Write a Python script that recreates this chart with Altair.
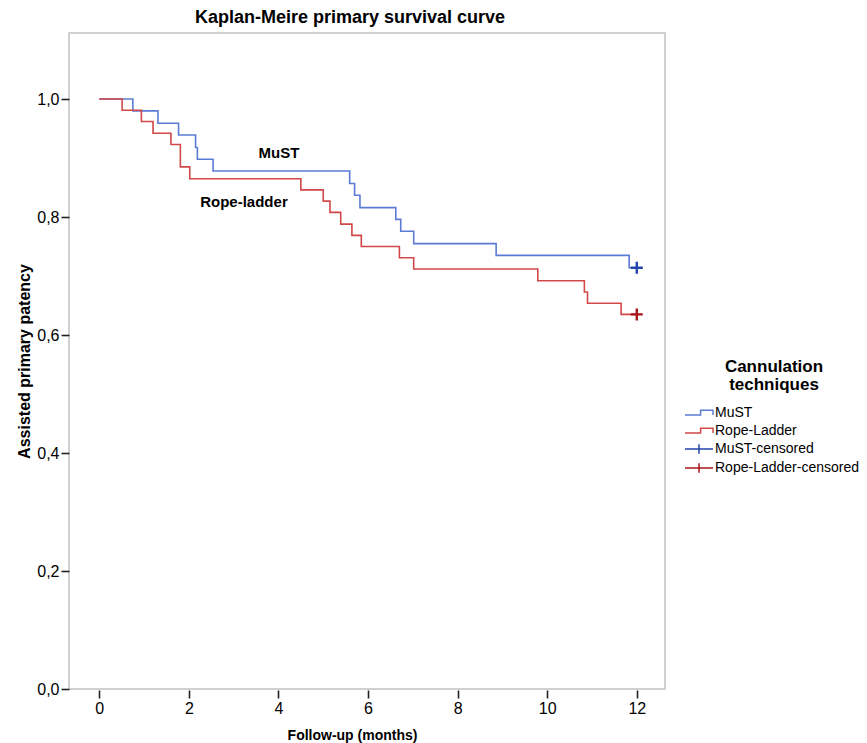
import altair as alt
import pandas as pd

# ---- data ----
series = ["MuST", "Rope-Ladder", "MuST-censored", "Rope-Ladder-censored"]
colors = ["#5b7bd5", "#d04848", "#2444ad", "#a8141a"]

must_t = [0, 0.75, 1.31, 1.77, 2.15, 2.19, 2.54, 5.59, 5.70, 5.82, 6.62, 6.73, 7.02, 8.86, 11.83, 12.0]
must_s = [1.0, 0.980, 0.959, 0.939, 0.918, 0.898, 0.878, 0.857, 0.837, 0.816, 0.796, 0.776, 0.755, 0.735, 0.714, 0.714]

rope_t = [0, 0.51, 0.94, 1.20, 1.60, 1.81, 2.02, 4.50, 5.00, 5.15, 5.39, 5.64, 5.85, 6.70, 7.02, 9.79, 10.83, 10.90, 11.65, 12.0]
rope_s = [1.0, 0.981, 0.962, 0.942, 0.923, 0.885, 0.865, 0.846, 0.827, 0.808, 0.788, 0.769, 0.750, 0.731, 0.712, 0.692, 0.673, 0.654, 0.635, 0.635]

cens_series = ["MuST-censored", "Rope-Ladder-censored"]
cens_t = [12.0, 12.0]
cens_s = [0.714, 0.635]

annot_text = ["MuST", "Rope-ladder"]
annot_t = [4.01, 3.23]
annot_s = [0.909, 0.825]

x_ticks = [0, 2, 4, 6, 8, 10, 12]
y_ticks = [0.0, 0.2, 0.4, 0.6, 0.8, 1.0]

FONT = "Liberation Sans"
STEP_PATH = "M-1.75,0.25H0.2V-0.35H1.75V0.25"
CENS_PATH = "M-1.75,0H1.75M0,-0.6V0.6"
CROSS_PATH = "M-1,0H1M0,-1V1"

df_lines = pd.DataFrame({
    "t": must_t + rope_t,
    "s": must_s + rope_s,
    "series": ["MuST"] * len(must_t) + ["Rope-Ladder"] * len(rope_t),
})
df_cens = pd.DataFrame({"t": cens_t, "s": cens_s, "series": cens_series})
df_annot = pd.DataFrame({"t": annot_t, "s": annot_s, "label": annot_text})
df_leg = pd.DataFrame({"t": [-50.0] * 4, "s": [0.5] * 4, "series": series})

x_scale = alt.Scale(domain=[-0.676, 12.63], nice=False, zero=False)
y_scale = alt.Scale(domain=[0, 1.112], nice=False, zero=False)
color_scale = alt.Scale(domain=series, range=colors)
shape_scale = alt.Scale(domain=series, range=[STEP_PATH, STEP_PATH, CENS_PATH, CENS_PATH])

x_enc = alt.X(
    "t:Q", scale=x_scale,
    axis=alt.Axis(values=x_ticks, title="Follow-up (months)", format="d",
                  titleX=283, titleY=38, titleBaseline="top", titleAnchor="start",
                  titleAlign="center", titleFontSize=14, offset=1),
)
y_enc = alt.Y(
    "s:Q", scale=y_scale,
    axis=alt.Axis(values=y_ticks, title="Assisted primary patency",
                  labelExpr="replace(format(datum.value, '.1f'), '.', ',')"),
)

legend = alt.Legend(
    title=["Cannulation", "techniques"], orient="none", legendX=621, legendY=326,
    symbolSize=256, symbolStrokeWidth=1.5, symbolOpacity=1, symbolFillColor="transparent",
    labelFont=FONT, labelFontSize=14, labelColor="#000000", labelOffset=7,
    titleFont=FONT, titleFontSize=17, titleFontWeight="bold", titleColor="#000000",
    titleAnchor="middle", titleAlign="center", titleLineHeight=18, titlePadding=10,
    rowPadding=2, padding=0,
)

color_enc = alt.Color("series:N", scale=color_scale, legend=legend)

legend_layer = alt.Chart(df_leg).mark_point(clip=True, filled=False, opacity=1).encode(
    x=x_enc, y=y_enc,
    color=color_enc,
    shape=alt.Shape("series:N", scale=shape_scale, legend=legend),
)

lines = alt.Chart(df_lines).mark_line(interpolate="step-after", strokeWidth=1.6).encode(
    x=x_enc, y=y_enc, color=color_enc,
)

crosses = alt.Chart(df_cens).mark_point(
    shape=CROSS_PATH, size=144, filled=False, strokeWidth=2.4, opacity=1
).encode(
    x=x_enc, y=y_enc, color=color_enc,
)

labels = alt.Chart(df_annot).mark_text(
    font=FONT, fontSize=15, fontWeight="bold", color="#000000", align="center", baseline="middle"
).encode(x=x_enc, y=y_enc, text="label:N")

chart = alt.layer(legend_layer, lines, crosses, labels).properties(
    width=596, height=656,
    padding={"left": 61, "top": 25, "right": 194, "bottom": 54},
    autosize=alt.AutoSizeParams(type="none"),
    title=alt.TitleParams(
        "Kaplan-Meire primary survival curve", font=FONT, fontSize=18, fontWeight="bold",
        color="#000000", anchor="middle", dx=-17, offset=6,
    ),
).configure_view(
    stroke="#d0d0d0", strokeWidth=2
).configure_axis(
    grid=False, domain=False, tickColor="#222222", tickSize=8, tickWidth=1.6,
    labelFont=FONT, labelFontSize=16, labelColor="#000000", labelPadding=2,
    titleFont=FONT, titleFontSize=16, titleFontWeight="bold", titleColor="#000000",
)

chart.save("out.html", embed_options={"renderer": "svg", "actions": False})
